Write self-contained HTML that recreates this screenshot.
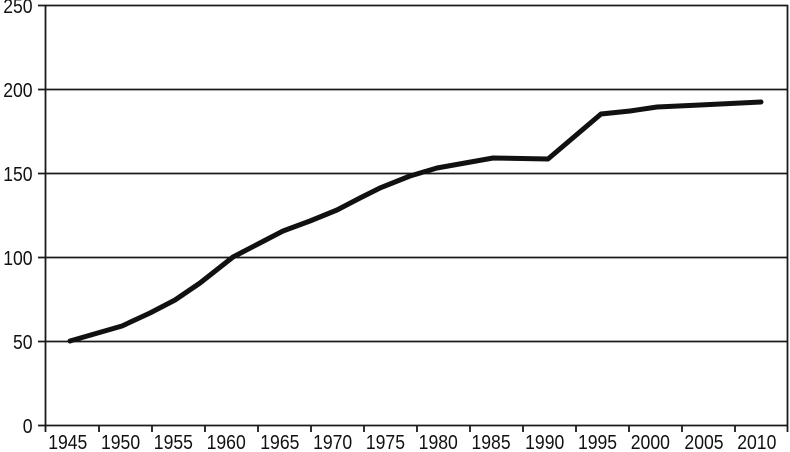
<!DOCTYPE html>
<html><head><style>body{margin:0;background:#fff}svg{display:block}</style></head><body>
<svg width="790" height="452" xmlns="http://www.w3.org/2000/svg" font-family="Liberation Sans, sans-serif">
<g stroke="#1a1a1a" stroke-width="1.8" fill="none">
<line x1="38" y1="5.5" x2="788" y2="5.5"/>
<line x1="38" y1="89.5" x2="788" y2="89.5"/>
<line x1="38" y1="173.5" x2="788" y2="173.5"/>
<line x1="38" y1="257.5" x2="788" y2="257.5"/>
<line x1="38" y1="341.5" x2="788" y2="341.5"/>
<line x1="38" y1="425.5" x2="788" y2="425.5"/>
<line x1="45.5" y1="5" x2="45.5" y2="426"/>
<line x1="787.5" y1="5" x2="787.5" y2="432"/>
<path d="M45.5 426v6M99 426v6M152 426v6M205 426v6M258 426v6M311 426v6M364 426v6M417 426v6M470 426v6M523 426v6M576 426v6M629 426v6M682 426v6M735 426v6"/>
</g>
<path d="M70 341 L122 326 L150 313 L175 300 L200 283 L233 257 L258 244 L283 231 L310 221 L337 210 L360 198 L380 188 L410 176 L437 168 L465 163 L493 158 L548 159 L601 114 L630 111 L657 107 L700 105 L761 102" fill="none" stroke="#111" stroke-width="5" stroke-linejoin="round" stroke-linecap="round"/>
<g font-size="20" fill="#111" text-anchor="end" transform="scale(0.88,1)">
<text x="37" y="13">250</text><text x="37" y="97">200</text><text x="37" y="181">150</text>
<text x="37" y="265">100</text><text x="37" y="349">50</text><text x="37" y="433">0</text>
</g>
<g font-size="20" fill="#111" text-anchor="middle" transform="scale(0.88,1)">
<text x="77" y="449">1945</text><text x="137" y="449">1950</text><text x="197" y="449">1955</text>
<text x="257" y="449">1960</text><text x="318" y="449">1965</text><text x="378" y="449">1970</text>
<text x="438" y="449">1975</text><text x="498" y="449">1980</text><text x="558" y="449">1985</text>
<text x="619" y="449">1990</text><text x="679" y="449">1995</text><text x="739" y="449">2000</text>
<text x="800" y="449">2005</text><text x="860" y="449">2010</text>
</g>
</svg>
</body></html>
